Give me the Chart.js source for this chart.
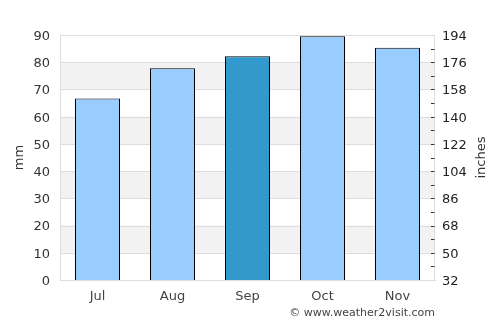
<!DOCTYPE html>
<html><head><meta charset="utf-8">
<script src="https://cdn.jsdelivr.net/npm/chart.js@4"></script>
<style>html,body{margin:0;padding:0;background:#fff}#w{width:500px;height:325px}</style>
</head><body><div id="w"><canvas id="c"></canvas></div>
<script>
const months = ['Jul','Aug','Sep','Oct','Nov'];
const rainfall = [66.7, 77.8, 82.2, 89.5, 85.3];
const highlightIndex = 2;
const leftTicks = [0,10,20,30,40,50,60,70,80,90];
const rightTickLabels = ['32','50','68','86','104','122','140','158','176','194'];

const FONT = 'DejaVu Sans';
const light = '#99ccff', dark = '#3399cc';

const decor = {
  id:'decor',
  beforeDatasetsDraw(chart){
    const {ctx, chartArea:a} = chart; const y = chart.scales.y;
    ctx.save();
    ctx.fillStyle = '#f2f2f2';
    for (let v=10; v<90; v+=20){
      const t = y.getPixelForValue(v+10), b = y.getPixelForValue(v);
      ctx.fillRect(a.left, t, a.right-a.left, b-t);
    }
    ctx.strokeStyle = '#dddddd'; ctx.lineWidth = 1;
    for (const v of leftTicks){
      const p = Math.round(y.getPixelForValue(v))+0.5;
      ctx.beginPath(); ctx.moveTo(a.left,p); ctx.lineTo(a.right,p); ctx.stroke();
    }
    ctx.beginPath(); ctx.moveTo(Math.round(a.left)+0.5,a.top); ctx.lineTo(Math.round(a.left)+0.5,a.bottom); ctx.stroke();
    ctx.beginPath(); ctx.moveTo(Math.round(a.right)-0.5,a.top); ctx.lineTo(Math.round(a.right)-0.5,a.bottom); ctx.stroke();
    ctx.restore();
  },
  afterDraw(chart){
    const {ctx, chartArea:a} = chart; const y = chart.scales.y;
    ctx.save();
    ctx.strokeStyle = '#333'; ctx.lineWidth = 1;
    for (let v=5; v<90; v+=5){
      const p = Math.round(y.getPixelForValue(v))+0.5;
      ctx.beginPath(); ctx.moveTo(a.right-4,p); ctx.lineTo(a.right-0.5,p); ctx.stroke();
    }
    ctx.fillStyle = '#333'; ctx.font = '13px "'+FONT+'"';
    ctx.textAlign = 'center'; ctx.textBaseline = 'middle';
    const cy = (a.top+a.bottom)/2;
    ctx.save(); ctx.translate(20, cy); ctx.rotate(-Math.PI/2); ctx.fillText('mm',0,0); ctx.restore();
    ctx.save(); ctx.translate(482, cy); ctx.rotate(-Math.PI/2); ctx.fillText('inches',0,0); ctx.restore();
    ctx.font = '11px "'+FONT+'"'; ctx.fillStyle = '#444'; ctx.textAlign = 'right';
    ctx.fillText('\u00a9 www.weather2visit.com', 435, 313);
    ctx.restore();
  }
};

new Chart(document.getElementById('c'), {
  type:'bar',
  data:{labels:months, datasets:[{
    data:rainfall,
    backgroundColor: rainfall.map((_,i)=> i===highlightIndex?dark:light),
    borderColor:'#000', borderWidth:1, borderSkipped:'bottom',
    categoryPercentage:1, barPercentage:0.6
  }]},
  options:{
    responsive:true, maintainAspectRatio:false, animation:false,
    layout:{padding:{top:35,left:0,right:0,bottom:0}},
    plugins:{legend:{display:false}, tooltip:{enabled:false}},
    scales:{
      x:{
        grid:{display:false, drawTicks:false},
        border:{display:true, color:'#dddddd'},
        ticks:{color:'#444', font:{family:FONT,size:13}, padding:9},
        afterFit(s){ s.height = 45; }
      },
      y:{
        position:'left', min:0, max:90,
        afterBuildTicks(s){ s.ticks = leftTicks.map(v=>({value:v})); },
        grid:{display:false, drawTicks:false},
        border:{display:false},
        ticks:{color:'#333', font:{family:FONT,size:13}, padding:10, labelOffset:1.5},
        afterFit(s){ s.width = 60; }
      },
      y2:{
        position:'right', min:0, max:90,
        afterBuildTicks(s){ s.ticks = leftTicks.map(v=>({value:v})); },
        grid:{display:false, drawTicks:false},
        border:{display:false},
        ticks:{color:'#222', font:{family:FONT,size:13}, padding:7, labelOffset:1.5,
          callback:(v,i)=> rightTickLabels[i]},
        afterFit(s){ s.width = 65; }
      }
    }
  },
  plugins:[decor]
});
</script></body></html>
